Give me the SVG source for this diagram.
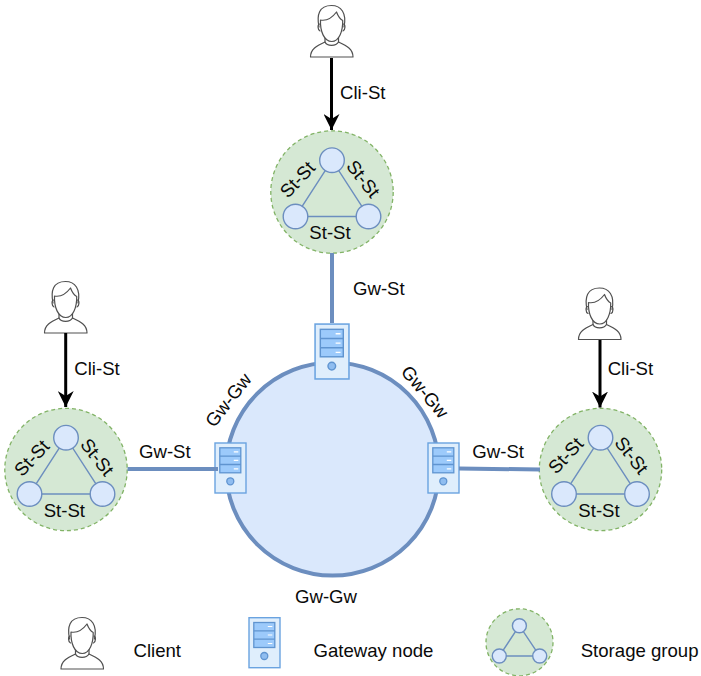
<svg xmlns="http://www.w3.org/2000/svg" width="701" height="676" viewBox="0 0 701 676">
<style>
text{font-family:"Liberation Sans",Arial,Helvetica,sans-serif;font-size:18.6px;fill:#0a0a0a}
.m{text-anchor:middle}
.lg{fill:#d5e8d4;stroke:#82b366;stroke-width:1.3;stroke-dasharray:4 3}
.sn{fill:#dae8fc;stroke:#6c8ebf;stroke-width:1.4}
.tl{fill:none;stroke:#6c8ebf;stroke-width:1.4}
.thick{fill:none;stroke:#6c8ebf;stroke-width:4}
.arrow{fill:none;stroke:#000;stroke-width:3}
.pp{fill:#fff;stroke:#505050;stroke-width:1.2;stroke-linejoin:round;stroke-linecap:round}
.gwb{fill:#dfeefc;stroke:#6aa3e0;stroke-width:1.4}
.gwr{fill:#9ccafb;stroke:#5f94d0;stroke-width:1.3}
.gwd{stroke:#fff;stroke-width:1.2}
</style>
<defs>
<g id="person">
<path class="pp" d="M.5 52H43C43 44 37 41 28.500 37C26 41.500 17 41.500 15 37C6.500 41 .5 44 .5 52Z"/>
<path class="pp" d="M15 37V31M28.500 37V31"/>
<path class="pp" fill="none" d="M9 22C6.500 10 9 .5 21.500 .5C31 .5 37 8 34 22" style="fill:none"/>
<path class="pp" d="M9.500 19C7.500 19 7.500 25 10 26M33.500 19C35.500 19 35.500 25 33 26" style="fill:none"/>
<path class="pp" d="M10.500 15C16 16 22 13 26.500 7C28 11 30 14 32.700 15.500C33 26 29 36.500 21.800 36.500C14 36.500 10 26 10.500 15Z"/>
</g>
<g id="gw">
<rect class="gwb" x=".7" y=".7" width="31" height="50"/>
<rect class="gwr" x="5.500" y="5.500" width="21" height="25"/>
<path class="gwr" d="M5.500 13.800H26.500M5.500 22.200H26.500"/>
<path class="gwd" d="M19.500 9.500H24M19.500 18H24M19.500 26.500H24"/>
<circle cx="16" cy="39" r="3.500" fill="#8fbdf0" stroke="#5f94d0" stroke-width="1.300"/>
</g>
<g id="sg">
<circle class="lg" r="61.200"/>
<path class="tl" d="M0 -31.800L-36.500 24.500H36.500Z"/>
<circle class="sn" cx="0" cy="-31.800" r="12.300"/>
<circle class="sn" cx="-36.500" cy="24.500" r="12.300"/>
<circle class="sn" cx="36.500" cy="24.500" r="12.300"/>
</g>
<marker id="ah" markerUnits="userSpaceOnUse" markerWidth="16" markerHeight="16" refX="16" refY="8" orient="auto">
<path d="M0 0L16 8L0 16L5 8Z" fill="#000"/>
</marker>
</defs>
<g id="ring"><circle cx="332.500" cy="469" r="106.500" fill="#dae8fc" stroke="#6c8ebf" stroke-width="4"/></g>
<g id="client-top"><use href="#person" x="310" y="5"/></g>
<g id="client-left"><use href="#person" x="44" y="281"/></g>
<g id="client-right"><use href="#person" x="578" y="287.500"/></g>
<g id="storage-top"><use href="#sg" x="332" y="192"/></g>
<g id="storage-left"><use href="#sg" x="66" y="469.500"/></g>
<g id="storage-right"><use href="#sg" x="600.500" y="469.500"/></g>
<g id="gateway-top"><use href="#gw" transform="translate(314.300 323.300) scale(1.094 1.098)"/></g>
<g id="gateway-left"><use href="#gw" x="214.300" y="442.300"/></g>
<g id="gateway-right"><use href="#gw" x="427.300" y="442.300"/></g>
<g id="connectors">
<path class="arrow" d="M331.500 58V130" marker-end="url(#ah)"/>
<path class="arrow" d="M65.700 333V407" marker-end="url(#ah)"/>
<path class="arrow" d="M600 340V407.500" marker-end="url(#ah)"/>
<path class="thick" d="M332 253V323"/>
<path class="thick" d="M127.500 469H218"/>
<path class="thick" d="M459 468.500L540 469.500"/>
</g>
<g id="labels">
<text x="340" y="99">Cli-St</text>
<text x="74.300" y="375">Cli-St</text>
<text x="607.700" y="375">Cli-St</text>
<text class="m" x="330" y="239.300">St-St</text>
<text class="m" x="64.300" y="517.300">St-St</text>
<text class="m" x="599" y="517.300">St-St</text>
<text class="m" y="6.500" transform="translate(297.300 179.500) rotate(-47)">St-St</text>
<text class="m" y="6.500" transform="translate(363.300 178.800) rotate(52)">St-St</text>
<text class="m" y="6.500" transform="translate(31.700 458) rotate(-47)">St-St</text>
<text class="m" y="6.500" transform="translate(97.300 457) rotate(52)">St-St</text>
<text class="m" y="6.500" transform="translate(565.700 455.500) rotate(-47)">St-St</text>
<text class="m" y="6.500" transform="translate(631.700 455.300) rotate(52)">St-St</text>
<text x="353" y="295">Gw-St</text>
<text x="139" y="458.300">Gw-St</text>
<text x="472.300" y="458.300">Gw-St</text>
<text class="m" y="6.500" transform="translate(228.300 400) rotate(-52)">Gw-Gw</text>
<text class="m" y="6.500" transform="translate(425 391.700) rotate(50)">Gw-Gw</text>
<text class="m" x="326" y="603">Gw-Gw</text>
</g>
<g id="legend-client"><use href="#person" x="60.500" y="617"/><text x="133.500" y="656.700">Client</text></g>
<g id="legend-gateway"><use href="#gw" x="248.300" y="617"/><text x="313.500" y="656.700">Gateway node</text></g>
<g id="legend-storage">
<circle class="lg" cx="519.500" cy="642.300" r="33.500"/>
<path class="tl" d="M519.400 625.700L499.300 656H539.700Z"/>
<circle class="sn" cx="519.400" cy="625.700" r="7"/>
<circle class="sn" cx="499.300" cy="656" r="7"/>
<circle class="sn" cx="539.700" cy="656" r="7"/>
<text x="580.700" y="656.700">Storage group</text>
</g>
</svg>
